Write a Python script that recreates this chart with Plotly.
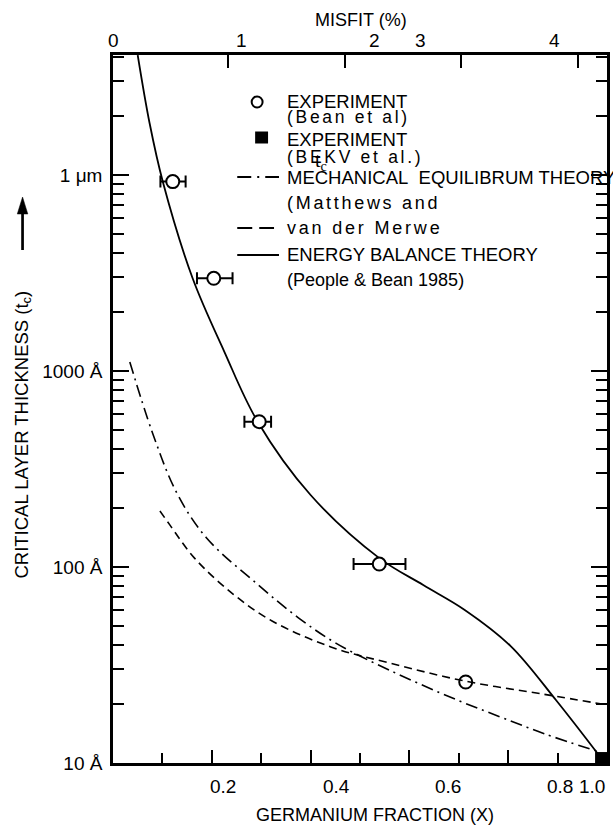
import plotly.graph_objects as go

# ---------------- data ----------------
# Experiment (Bean et al): germanium fraction, critical thickness (Angstrom), x error bars
bean_x = [0.121, 0.204, 0.296, 0.539, 0.714]
bean_t = [9250, 2970, 551, 103.5, 25.9]
bean_err_plus = [0.026, 0.038, 0.024, 0.053, 0.0]
bean_err_minus = [0.025, 0.034, 0.030, 0.052, 0.0]

# Experiment (BEKV et al.)
bekv_x = [0.988]
bekv_t = [10.6]

# Energy balance theory (People & Bean 1985)
energy_x = [0.050, 0.074, 0.101, 0.161, 0.225, 0.292, 0.400, 0.539, 0.628, 0.712,
            0.805, 0.897, 0.988]
energy_t = [40900, 18400, 9200, 2980, 1260, 556, 233, 111, 80.9, 60.4,
            39.5, 20.9, 10.6]

# Mechanical equilibrium theory (Matthews and ...)
mech_x = [0.034, 0.080, 0.129, 0.189, 0.292, 0.376, 0.451, 0.559, 0.698, 0.805,
          0.873, 0.984]
mech_t = [1112, 483, 239, 141, 81.8, 54.9, 40.9, 29.8, 20.9, 16.4,
          14.1, 11.4]

# van der Merwe
merwe_x = [0.095, 0.115, 0.165, 0.243, 0.322, 0.441, 0.559, 0.712, 0.873, 1.0]
merwe_t = [193, 164, 111, 72.8, 53, 39.1, 32.4, 26.2, 22.4, 19.8]

# axes / tick labels
y_tickvals = [10, 100, 1000, 10000]
y_ticktext = ["10 Å", "100 Å", "1000 Å", "1 μm"]
y_minor = [m * d for d in (10, 100, 1000, 10000) for m in range(2, 10)]

bottom_labels = ["0", "0.2", "0.4", "0.6", "0.8", "1.0"]
bottom_label_pos = [-0.008, 0.223, 0.453, 0.678, 0.905, 0.970]
bottom_major = [0.2, 0.4, 0.6, 0.8]

misfit_ticks = [1, 2, 3, 4]
misfit_labels = ["0", "1", "2", "3", "4"]
misfit_label_pos = [0.013, 1.113, 2.255, 2.647, 3.798]
misfit_range = [0.013, 4.25]

# ---------------- layout helpers ----------------
W, H = 613, 825
L, R, T, B = 113, 610, 55, 763


def px(x):
    return (x - L) / (R - L)


def py(y):
    return (B - y) / (B - T)


FONT = "Liberation Sans, Arial, sans-serif"
SERIF = "Liberation Serif, Times New Roman, serif"


def spaced(s, sp=2.7):
    return f'<span style="letter-spacing:{sp}px">{s}</span>'


fig = go.Figure()

fig.add_trace(go.Scatter(x=energy_x, y=energy_t, mode="lines",
                         line=dict(color="black", width=1.8, shape="spline", smoothing=1.0),
                         showlegend=False, hoverinfo="skip"))
fig.add_trace(go.Scatter(x=mech_x, y=mech_t, mode="lines",
                         line=dict(color="black", width=1.6, dash="12px,5px,2px,5px",
                                   shape="spline", smoothing=1.0),
                         showlegend=False, hoverinfo="skip"))
fig.add_trace(go.Scatter(x=bean_x, y=bean_t, mode="markers",
                         marker=dict(symbol="circle", size=13, color="white",
                                     line=dict(color="black", width=2)),
                         error_x=dict(type="data", symmetric=False, array=bean_err_plus,
                                      arrayminus=bean_err_minus, color="black",
                                      thickness=2, width=6),
                         showlegend=False, hoverinfo="skip"))
fig.add_trace(go.Scatter(x=merwe_x, y=merwe_t, mode="lines",
                         line=dict(color="black", width=1.6, dash="8px,5px",
                                   shape="spline", smoothing=1.0),
                         showlegend=False, hoverinfo="skip"))
fig.add_trace(go.Scatter(x=bekv_x, y=bekv_t, mode="markers",
                         marker=dict(symbol="square", size=12, color="black"),
                         showlegend=False, hoverinfo="skip"))
# carrier for the top (misfit) axis
fig.add_trace(go.Scatter(x=misfit_range, y=[None, None], xaxis="x2", mode="lines",
                         showlegend=False, hoverinfo="skip"))

fig.update_layout(
    width=W, height=H,
    margin=dict(l=L, r=W - R, t=T, b=H - B),
    paper_bgcolor="white", plot_bgcolor="white",
    font=dict(family=FONT, size=19, color="black"),
    showlegend=False,
    xaxis=dict(range=[0, 1.0], showgrid=False, zeroline=False,
               showline=True, linecolor="black", linewidth=2.5, mirror=True,
               ticks="inside", tickmode="array", tickvals=bottom_major,
               ticklen=13, tickwidth=2, tickcolor="black", showticklabels=False,
               minor=dict(ticks="inside", dtick=0.1, tick0=0, ticklen=10,
                          tickwidth=2, tickcolor="black", showgrid=False)),
    xaxis2=dict(range=misfit_range, overlaying="x", side="top", anchor="y",
                showgrid=False, zeroline=False, showline=False,
                ticks="inside", tickmode="array", tickvals=misfit_ticks,
                ticklen=13, tickwidth=2, tickcolor="black", showticklabels=False),
    yaxis=dict(type="log", range=[1, 4.612], showgrid=False, zeroline=False,
               showline=True, linecolor="black", linewidth=2.5, mirror="ticks",
               ticks="inside", tickmode="array", tickvals=y_tickvals, ticktext=y_ticktext,
               ticklen=16, tickwidth=2, tickcolor="black",
               tickfont=dict(size=19, family=FONT), ticklabelstandoff=4,
               minor=dict(ticks="inside", tickmode="array", tickvals=y_minor,
                          ticklen=11, tickwidth=2, tickcolor="black", showgrid=False)),
)

ann = []
# bottom tick labels
for lab, pos in zip(bottom_labels, bottom_label_pos):
    ann.append(dict(text=lab, x=pos, xref="x", y=py(786), yref="paper",
                    xanchor="center", yanchor="middle", showarrow=False,
                    font=dict(size=19, family=FONT)))
# top tick labels
for lab, pos in zip(misfit_labels, misfit_label_pos):
    ann.append(dict(text=lab, x=pos, xref="x2", y=py(41), yref="paper",
                    xanchor="center", yanchor="middle", showarrow=False,
                    font=dict(size=19, family=FONT)))
# axis titles
ann.append(dict(text="GERMANIUM FRACTION (X)", x=px(377), y=py(815), xref="paper", yref="paper",
                xanchor="center", yanchor="middle", showarrow=False, font=dict(size=18, family=FONT)))
ann.append(dict(text="MISFIT (%)", x=px(363), y=py(20), xref="paper", yref="paper",
                xanchor="center", yanchor="middle", showarrow=False, font=dict(size=18, family=FONT)))
ann.append(dict(text="CRITICAL LAYER THICKNESS (t<sub>c</sub>)", x=px(22), y=py(435),
                xref="paper", yref="paper", textangle=-90,
                xanchor="center", yanchor="middle", showarrow=False, font=dict(size=18.5, family=FONT)))

# legend texts
legend_lines = [
    ("EXPERIMENT", 102, 18.5),
    (spaced("(Bean et al)"), 117, 17.5),
    ("EXPERIMENT", 139, 18.5),
    (spaced("(BEKV et al.)"), 157, 17.5),
    ("MECHANICAL\u00a0\u00a0EQUILIBRUM THEORY", 177, 18.5),
    (spaced("(Matthews and"), 203, 18),
    (spaced("van der Merwe", 2.8), 228, 18),
    ("ENERGY BALANCE THEORY", 255, 18.5),
    ("(People &amp; Bean 1985)", 280, 18),
]
for txt, yy, sz in legend_lines:
    ann.append(dict(text=txt, x=px(286), y=py(yy), xref="paper", yref="paper",
                    xanchor="left", yanchor="middle", showarrow=False,
                    font=dict(size=sz, family=FONT)))
# stray t_c label
ann.append(dict(text="t<sub>c</sub>", x=px(322), y=py(162), xref="paper", yref="paper",
                xanchor="center", yanchor="middle", showarrow=False,
                font=dict(size=20, family=SERIF)))
fig.update_layout(annotations=ann)

shapes = []
# legend symbols
shapes.append(dict(type="circle", xref="paper", yref="paper",
                   x0=px(252.5), x1=px(263.5), y0=py(107.5), y1=py(96.5),
                   line=dict(color="black", width=2), fillcolor="white"))
shapes.append(dict(type="rect", xref="paper", yref="paper",
                   x0=px(256), x1=px(269), y0=py(143.5), y1=py(131.5),
                   line=dict(color="black", width=0), fillcolor="black"))
shapes.append(dict(type="line", xref="paper", yref="paper",
                   x0=px(238), x1=px(280), y0=py(177), y1=py(177),
                   line=dict(color="black", width=1.8, dash="14px,6px,2px,6px")))
shapes.append(dict(type="line", xref="paper", yref="paper",
                   x0=px(238), x1=px(275), y0=py(228), y1=py(228),
                   line=dict(color="black", width=1.8, dash="15px,7px")))
shapes.append(dict(type="line", xref="paper", yref="paper",
                   x0=px(238), x1=px(280), y0=py(255), y1=py(255),
                   line=dict(color="black", width=1.8)))
# up arrow beside the y title
shapes.append(dict(type="line", xref="paper", yref="paper",
                   x0=px(22), x1=px(22), y0=py(250), y1=py(212),
                   line=dict(color="black", width=2.7)))
shapes.append(dict(type="path", xref="paper", yref="paper",
                   path=f"M {px(22)},{py(197)} L {px(16.7)},{py(214)} L {px(27.3)},{py(214)} Z",
                   fillcolor="black", line=dict(color="black", width=0.5)))
fig.update_layout(shapes=shapes)

fig.write_html("out.html")
